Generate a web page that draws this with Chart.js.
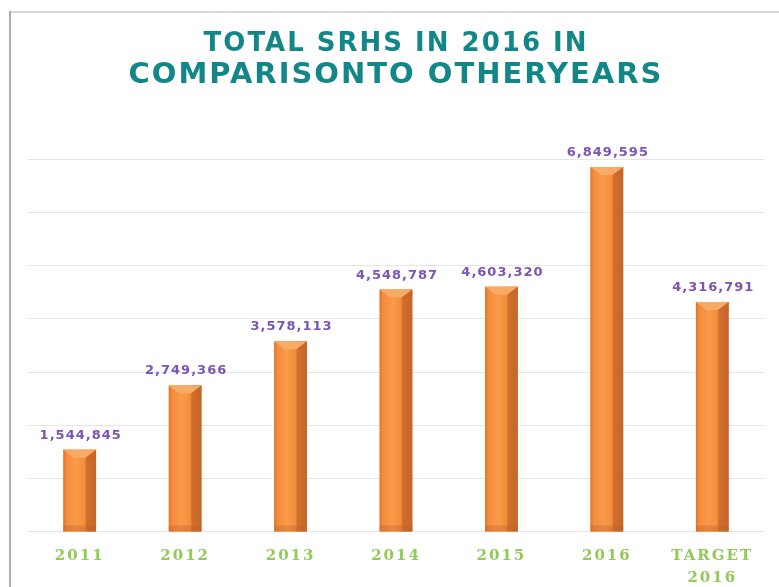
<!DOCTYPE html>
<html><head><meta charset="utf-8">
<script src="https://cdn.jsdelivr.net/npm/chart.js@4/dist/chart.umd.min.js"></script>
<style>html,body{margin:0;padding:0;background:#fff}#wrap{width:779px;height:587px;position:relative}</style>
</head><body><div id="wrap"><canvas id="c" width="779" height="587"></canvas></div>
<script>
const categories = [['2011'], ['2012'], ['2013'], ['2014'], ['2015'], ['2016'], ['TARGET', '2016']];
const values = [1544845, 2749366, 3578113, 4548787, 4603320, 6849595, 4316791];
const valueLabels = ['1,544,845', '2,749,366', '3,578,113', '4,548,787', '4,603,320', '6,849,595', '4,316,791'];
const yTicks = [0, 1000000, 2000000, 3000000, 4000000, 5000000, 6000000, 7000000];
const titleLine1 = 'TOTAL SRHS IN 2016 IN';
const titleLine2 = 'COMPARISONTO OTHERYEARS';

const framePlugin = {
  id: 'frame',
  beforeDraw(chart) {
    const ctx = chart.ctx;
    ctx.save();
    ctx.fillStyle = '#ffffff';
    ctx.fillRect(0, 0, chart.width, chart.height);
    ctx.fillStyle = '#dadada';
    ctx.fillRect(9, 11, chart.width - 9, 2);
    ctx.fillStyle = '#adadad';
    ctx.fillRect(9, 11, 2, chart.height - 11);
    ctx.restore();
    ctx.letterSpacing = '2px';
  },
  afterDatasetsDraw(chart) {
    const ctx = chart.ctx;
    const meta = chart.getDatasetMeta(0);
    meta.data.forEach((el, i) => {
      const x = el.x, y = el.y, base = el.base, w = el.width;
      const l = x - w / 2, r = x + w / 2;
      ctx.save();
      const g = ctx.createLinearGradient(l, 0, r, 0);
      g.addColorStop(0, '#e0742a');
      g.addColorStop(0.1, '#f48c3c');
      g.addColorStop(0.4, '#f99b4a');
      g.addColorStop(0.66, '#f38c3a');
      g.addColorStop(0.7, '#d16f2c');
      g.addColorStop(1, '#c4662b');
      ctx.fillStyle = g;
      ctx.fillRect(l, y, w, base - y);
      const h = 8;
      ctx.fillStyle = '#f8ab66';
      ctx.beginPath();
      ctx.moveTo(l, y);
      ctx.lineTo(r, y);
      ctx.lineTo(x + w * 0.18, y + h);
      ctx.lineTo(x - w * 0.18, y + h);
      ctx.closePath();
      ctx.fill();
      ctx.fillStyle = 'rgba(200,100,40,0.45)';
      ctx.beginPath();
      ctx.moveTo(r, y);
      ctx.lineTo(r, y + h);
      ctx.lineTo(x + w * 0.18, y + h);
      ctx.closePath();
      ctx.fill();
      ctx.fillStyle = 'rgba(190,95,40,0.35)';
      ctx.fillRect(l, base - 6, w, 6);
      ctx.letterSpacing = '1px';
      ctx.fillStyle = '#7b55b3';
      ctx.font = 'bold 13px "DejaVu Sans"';
      ctx.textAlign = 'center';
      ctx.textBaseline = 'alphabetic';
      ctx.fillText(valueLabels[i], x + 1, y - 11);
      ctx.restore();
    });
    ctx.letterSpacing = '2px';
  }
};

new Chart(document.getElementById('c'), {
  type: 'bar',
  data: {
    labels: categories,
    datasets: [{
      data: values,
      backgroundColor: '#f6923f',
      borderWidth: 0,
      categoryPercentage: 1,
      barPercentage: 0.31
    }]
  },
  options: {
    responsive: false,
    animation: false,
    devicePixelRatio: 1,
    layout: { padding: { left: 27, right: 14, top: 0, bottom: -15 } },
    plugins: {
      legend: { display: false },
      tooltip: { enabled: false },
      title: {
        display: true,
        text: titleLine1,
        color: '#138788',
        font: { family: 'DejaVu Sans', weight: 'bold', size: 26, lineHeight: 1 },
        padding: { top: 31, bottom: 0 }
      },
      subtitle: {
        display: true,
        text: titleLine2,
        color: '#138788',
        font: { family: 'DejaVu Sans', weight: 'bold', size: 29, lineHeight: 1 },
        padding: { top: 3.5, bottom: 69.5 }
      }
    },
    scales: {
      x: {
        grid: { display: false, drawTicks: false },
        border: { display: false },
        ticks: {
          z: 1,
          color: '#93c957',
          font: { family: 'DejaVu Serif', weight: 'bold', size: 15, lineHeight: 1.4667 },
          padding: 13,
          maxRotation: 0,
          autoSkip: false
        }
      },
      y: {
        min: 0,
        max: yTicks[yTicks.length - 1],
        afterBuildTicks(scale) { scale.ticks = yTicks.map(v => ({ value: v })); },
        grid: { color: '#e6e6e6', lineWidth: 1, drawTicks: false },
        border: { display: false },
        ticks: { display: false }
      }
    }
  },
  plugins: [framePlugin]
});
</script>
</body></html>
